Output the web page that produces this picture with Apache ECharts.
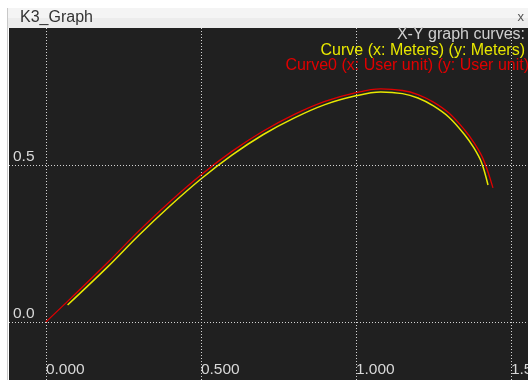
<!DOCTYPE html>
<html><head><meta charset="utf-8">
<script src="https://cdn.jsdelivr.net/npm/echarts@6/dist/echarts.min.js"></script>
<style>html,body{margin:0;padding:0;background:#fff;}#c{width:528px;height:380px;}</style>
</head><body><div id="c"></div>
<script>
// Curve0 (red, User unit)
var curve0X = [0, 0.08, 0.2, 0.3, 0.4, 0.5, 0.6, 0.7, 0.8, 0.9, 1.0, 1.08, 1.15, 1.2, 1.25, 1.3, 1.35, 1.38, 1.41, 1.442];
var curve0Y = [0, 0.075, 0.19, 0.29, 0.383, 0.468, 0.543, 0.607, 0.66, 0.702, 0.73, 0.742, 0.737, 0.724, 0.7, 0.665, 0.612, 0.572, 0.52, 0.427];
// Curve (yellow, Meters)
var curveX = [0.07, 0.2, 0.3, 0.4, 0.5, 0.6, 0.7, 0.8, 0.9, 1.0, 1.08, 1.15, 1.2, 1.25, 1.3, 1.35, 1.38, 1.405, 1.426];
var curveY = [0.054, 0.176, 0.276, 0.369, 0.455, 0.531, 0.596, 0.649, 0.692, 0.72, 0.732, 0.727, 0.713, 0.688, 0.652, 0.597, 0.555, 0.508, 0.436];
// ticks
var xTicks = [0, 0.5, 1.0, 1.5];
var yTicks = [0, 0.5];
var legendLines = ['X-Y graph curves:', 'Curve (x: Meters) (y: Meters)', 'Curve0 (x: User unit) (y: User unit)'];
var windowTitle = 'K3_Graph';

function zip(a, b) { return a.map(function (v, i) { return [v, b[i]]; }); }

var chart = echarts.init(document.getElementById('c'), null, {renderer: 'canvas'});
var gridStyle = {color: '#d4d4d4', type: [1, 2], width: 1};
var font = '"Liberation Sans", Arial, sans-serif';

chart.setOption({
  animation: false,
  backgroundColor: '#ffffff',
  grid: {left: 9, right: 0, top: 28, bottom: 0, show: true, backgroundColor: '#202020', borderWidth: 0,
         containLabel: false, outerBoundsMode: 'none'},
  xAxis: {
    type: 'value', min: -0.119, max: 1.555,
    axisLine: {show: false}, axisTick: {show: false}, splitLine: {show: false},
    axisLabel: {
      show: true, inside: true, customValues: xTicks, margin: 2,
      alignMinLabel: 'left', alignMaxLabel: 'left', hideOverlap: false,
      color: '#d8d8d8', fontSize: 15.5, fontFamily: font, align: 'left',
      formatter: function (v) { return Number(v).toFixed(3); }
    }
  },
  yAxis: {
    type: 'value', min: -0.185, max: 0.936,
    axisLine: {show: false}, axisTick: {show: false}, splitLine: {show: false},
    axisLabel: {
      show: true, inside: true, customValues: yTicks, margin: 4,
      color: '#d8d8d8', fontSize: 15.5, fontFamily: font, align: 'left', verticalAlign: 'bottom',
      formatter: function (v) { return Number(v).toFixed(1); }
    }
  },
  graphic: [
    {type: 'rect', shape: {x: 7, y: 8, width: 521, height: 20}, style: {fill: '#ececec'}, z: 10},
    {type: 'rect', shape: {x: 7, y: 8, width: 521, height: 10}, style: {fill: '#f4f4f4'}, z: 10},
    {type: 'line', shape: {x1: 7.5, y1: 8, x2: 7.5, y2: 380}, style: {stroke: '#c8c8c8', lineWidth: 1}, z: 11},
    {type: 'text', x: 20, y: 18, style: {text: windowTitle, fill: '#333', font: '16px ' + font, verticalAlign: 'middle'}, z: 11},
    {type: 'text', x: 524, y: 17, style: {text: 'x', fill: '#555', font: '13px ' + font, align: 'right', verticalAlign: 'middle'}, z: 11},
    {type: 'text', x: 525, y: 35, style: {text: legendLines[0], fill: '#d0d0d0', font: '16px ' + font, align: 'right', verticalAlign: 'middle'}, z: 11},
    {type: 'text', x: 525, y: 51, style: {text: legendLines[1], fill: '#e8e800', font: '16px ' + font, align: 'right', verticalAlign: 'middle'}, z: 11},
    {type: 'text', x: 529, y: 66, style: {text: legendLines[2], fill: '#e00000', font: '16px ' + font, align: 'right', verticalAlign: 'middle'}, z: 11}
  ],
  series: [
    {
      type: 'line', data: [], silent: true,
      markLine: {
        silent: true, symbol: 'none', label: {show: false},
        lineStyle: gridStyle,
        data: xTicks.map(function (v) { return {xAxis: v}; }).concat(yTicks.map(function (v) { return {yAxis: v}; }))
      }
    },
    {
      name: 'Curve0', type: 'line', data: zip(curve0X, curve0Y), smooth: 0.35, showSymbol: false,
      lineStyle: {color: '#e00000', width: 1.3}, z: 3
    },
    {
      name: 'Curve', type: 'line', data: zip(curveX, curveY), smooth: 0.35, showSymbol: false,
      lineStyle: {color: '#e8e800', width: 1.5}, z: 4
    }
  ]
});
</script></body></html>
